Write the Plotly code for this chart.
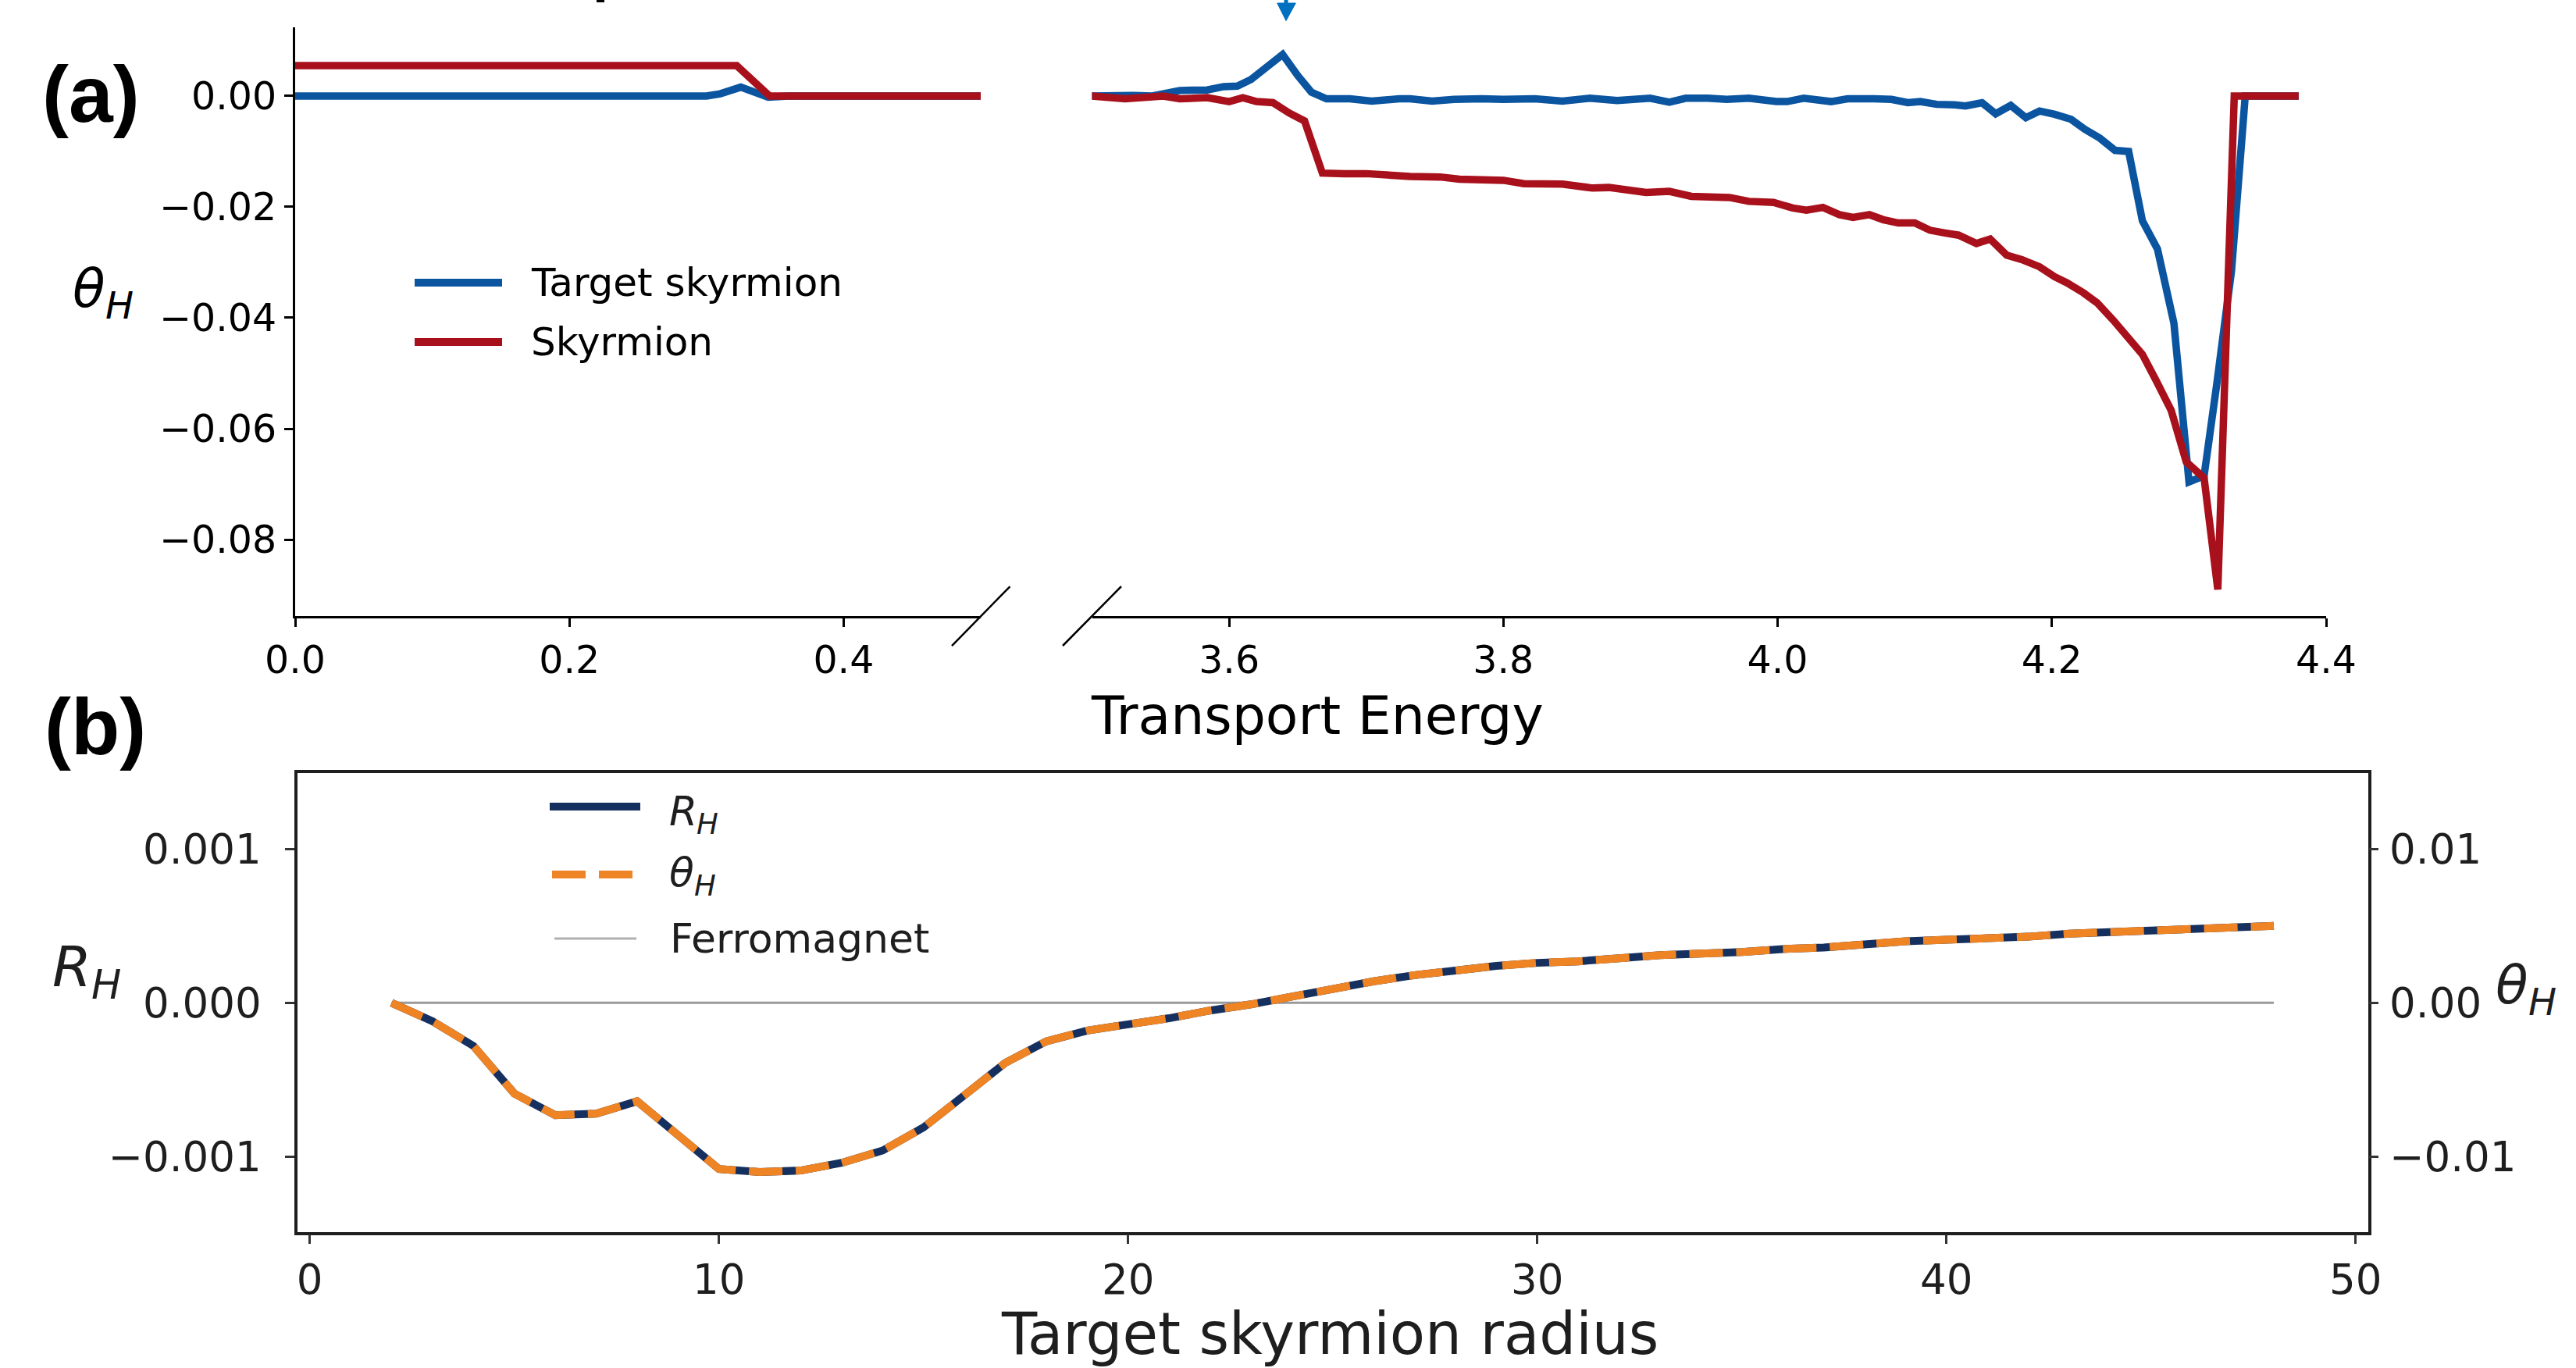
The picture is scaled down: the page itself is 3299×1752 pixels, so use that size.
import plotly.graph_objects as go

W, H = 3299, 1752


def px(x):
    return x / W


def py(y):
    return 1 - y / H


# ---------------- Panel (a): Hall angle vs transport energy ----------------
energy_target = [0.0, 0.300, 0.310, 0.325, 0.345, 0.360, 0.5,
                 3.500, 3.530, 3.544, 3.564, 3.584, 3.596, 3.606, 3.616, 3.639, 3.650,
                 3.660, 3.671, 3.688, 3.704, 3.724, 3.732, 3.748, 3.764, 3.784, 3.800,
                 3.823, 3.843, 3.863, 3.883, 3.907, 3.921, 3.933, 3.949, 3.963, 3.979,
                 3.999, 4.007, 4.019, 4.039, 4.051, 4.070, 4.083, 4.095, 4.104, 4.116,
                 4.129, 4.137, 4.149, 4.159, 4.170, 4.181, 4.191, 4.202, 4.214, 4.224,
                 4.235, 4.246, 4.256, 4.266, 4.277, 4.289, 4.300, 4.311, 4.320, 4.331,
                 4.341, 4.380]
theta_target = [0.0, 0.0, 0.0004, 0.0016, -0.0002, 0.0, 0.0,
                0.0000, 0.0001, 0.0000, 0.0010, 0.0011, 0.0017, 0.0018, 0.0030, 0.0075, 0.0037,
                0.0007, -0.0005, -0.0005, -0.0009, -0.0005, -0.0005, -0.0009, -0.0006, -0.0005, -0.0006,
                -0.0005, -0.0009, -0.0004, -0.0008, -0.0004, -0.0011, -0.0004, -0.0004, -0.0006, -0.0004,
                -0.0010, -0.0010, -0.0004, -0.0010, -0.0005, -0.0005, -0.0006, -0.0012, -0.0010, -0.0015,
                -0.0016, -0.0018, -0.0012, -0.0032, -0.0017, -0.0039, -0.0027, -0.0033, -0.0042, -0.0060,
                -0.0076, -0.0098, -0.0100, -0.0225, -0.0276, -0.0410, -0.0696, -0.0685, -0.0524, -0.0315,
                0.0000, 0.0000]

energy_skyrmion = [0.0, 0.322, 0.346, 0.5,
                   3.500, 3.524, 3.552, 3.564, 3.584, 3.600, 3.610, 3.620, 3.632, 3.644, 3.655,
                   3.668, 3.684, 3.700, 3.732, 3.754, 3.768, 3.800, 3.815, 3.843, 3.865, 3.877,
                   3.904, 3.921, 3.937, 3.965, 3.979, 3.997, 4.011, 4.021, 4.033, 4.045, 4.055,
                   4.067, 4.077, 4.088, 4.100, 4.111, 4.122, 4.132, 4.145, 4.155, 4.167, 4.178,
                   4.191, 4.202, 4.211, 4.223, 4.233, 4.245, 4.256, 4.266, 4.276, 4.287, 4.298,
                   4.311, 4.321, 4.333, 4.380]
theta_skyrmion = [0.0055, 0.0055, 0.0, 0.0,
                  0.0000, -0.0005, 0.0000, -0.0005, -0.0003, -0.0010, -0.0003, -0.0010, -0.0012, -0.0031, -0.0045,
                  -0.0139, -0.0140, -0.0140, -0.0145, -0.0146, -0.0150, -0.0152, -0.0158, -0.0159, -0.0166, -0.0165,
                  -0.0174, -0.0172, -0.0181, -0.0183, -0.0190, -0.0192, -0.0202, -0.0206, -0.0201, -0.0214, -0.0219,
                  -0.0214, -0.0223, -0.0229, -0.0229, -0.0242, -0.0247, -0.0251, -0.0266, -0.0258, -0.0287, -0.0295,
                  -0.0308, -0.0326, -0.0337, -0.0355, -0.0373, -0.0405, -0.0437, -0.0466, -0.0513, -0.0567, -0.0660,
                  -0.0689, -0.0890, 0.0000, 0.0000]

a_ytick_vals = [0.0, -0.02, -0.04, -0.06, -0.08]
a_ytick_text = ["0.00", "\u22120.02", "\u22120.04", "\u22120.06", "\u22120.08"]
a_left_xticks = [0.0, 0.2, 0.4]
a_left_xtext = ["0.0", "0.2", "0.4"]
a_right_xticks = [3.6, 3.8, 4.0, 4.2, 4.4]
a_right_xtext = ["3.6", "3.8", "4.0", "4.2", "4.4"]

# ---------------- Panel (b): Hall resistance vs target skyrmion radius ----------------
radius = [2, 3, 4, 5, 6, 7, 8, 9, 10, 11, 12, 13, 14, 15, 16, 17, 18, 19, 20, 21, 22, 23, 24, 25,
          26, 27, 28, 29, 30, 31, 32, 33, 34, 35, 36, 37, 38, 39, 40, 41, 42, 43, 44, 45, 46, 47, 48]
R_H = [0.0, -0.00012, -0.00028, -0.00059, -0.00073, -0.00072, -0.00064, -0.00086, -0.00108, -0.00110,
       -0.00109, -0.00104, -0.00096, -0.00081, -0.00060, -0.00039, -0.00025, -0.00018, -0.00014, -0.00010,
       -0.00005, -0.00001, 0.00004, 0.00009, 0.00014, 0.00018, 0.00021, 0.00024, 0.00026, 0.00027,
       0.00029, 0.00031, 0.00032, 0.00033, 0.00035, 0.00036, 0.00038, 0.00040, 0.00041, 0.00042,
       0.00043, 0.00045, 0.00046, 0.00047, 0.00048, 0.00049, 0.00050]
theta_H = [0.0, -0.0012, -0.0028, -0.0059, -0.0073, -0.0072, -0.0064, -0.0086, -0.0108, -0.0110,
           -0.0109, -0.0104, -0.0096, -0.0081, -0.0060, -0.0039, -0.0025, -0.0018, -0.0014, -0.0010,
           -0.0005, -0.0001, 0.0004, 0.0009, 0.0014, 0.0018, 0.0021, 0.0024, 0.0026, 0.0027,
           0.0029, 0.0031, 0.0032, 0.0033, 0.0035, 0.0036, 0.0038, 0.0040, 0.0041, 0.0042,
           0.0043, 0.0045, 0.0046, 0.0047, 0.0048, 0.0049, 0.0050]
ferromagnet_radius = [2, 48]
ferromagnet_RH = [0.0, 0.0]

b_xticks = [0, 10, 20, 30, 40, 50]
b_ltick_vals = [0.001, 0.0, -0.001]
b_ltick_text = ["0.001", "0.000", "\u22120.001"]
b_rtick_vals = [0.01, 0.0, -0.01]
b_rtick_text = ["0.01", "0.00", "\u22120.01"]

# ---------------- Styles ----------------
BLUE = "#0b55a0"
RED = "#a8111b"
NAVY = "#15305f"
ORANGE = "#ef8424"
GREY = "#9a9a9a"
ARROW = "#0070c0"
FONT = "DejaVu Sans"
DASH = "43px,17px"
DARK = "#1e1e1e"

fig = go.Figure()

for xa in ["x", "x2"]:
    fig.add_trace(go.Scatter(x=energy_target, y=theta_target, mode="lines", xaxis=xa, yaxis="y",
                             line=dict(color=BLUE, width=9.5, simplify=False), showlegend=False,
                             name="Target skyrmion"))
    fig.add_trace(go.Scatter(x=energy_skyrmion, y=theta_skyrmion, mode="lines", xaxis=xa, yaxis="y",
                             line=dict(color=RED, width=9.5, simplify=False), showlegend=False,
                             name="Skyrmion"))

fig.add_trace(go.Scatter(x=ferromagnet_radius, y=ferromagnet_RH, mode="lines", xaxis="x3", yaxis="y3",
                         line=dict(color=GREY, width=3), showlegend=False, name="Ferromagnet"))
fig.add_trace(go.Scatter(x=radius, y=R_H, mode="lines", xaxis="x3", yaxis="y3",
                         line=dict(color=NAVY, width=10, simplify=False), showlegend=False, name="R_H"))
fig.add_trace(go.Scatter(x=radius, y=theta_H, mode="lines", xaxis="x3", yaxis="y4",
                         line=dict(color=ORANGE, width=10, dash=DASH, simplify=False), showlegend=False,
                         name="theta_H"))

top_axis = dict(showline=True, linecolor="black", linewidth=3, ticks="outside", ticklen=11,
                tickwidth=2.5, tickcolor="black", showgrid=False, zeroline=False, automargin=False,
                tickfont=dict(family=FONT, size=49, color="black"))
bot_axis = dict(showline=True, linecolor=DARK, linewidth=3.5, ticks="outside", ticklen=12,
                tickwidth=2.5, tickcolor="#333", showgrid=False, zeroline=False, automargin=False,
                tickfont=dict(family=FONT, size=53, color=DARK))

fig.update_layout(
    width=W, height=H, margin=dict(l=0, r=0, t=0, b=0, autoexpand=False),
    paper_bgcolor="white", plot_bgcolor="rgba(0,0,0,0)", showlegend=False,
    xaxis=dict(domain=[px(378), px(1256)], range=[0, 0.5], anchor="y",
               tickvals=a_left_xticks, ticktext=a_left_xtext, **top_axis),
    xaxis2=dict(domain=[px(1398.5), px(2979)], range=[3.5, 4.4], anchor="y",
                tickvals=a_right_xticks, ticktext=a_right_xtext, **top_axis),
    yaxis=dict(domain=[py(789), py(35)], range=[-0.0938, 0.01239], anchor="x",
               tickvals=a_ytick_vals, ticktext=a_ytick_text, **top_axis),
    xaxis3=dict(domain=[px(381), px(3032.5)], range=[-0.3, 50.3], anchor="y3", mirror=True,
                tickvals=b_xticks, **bot_axis),
    yaxis3=dict(domain=[py(1577.5), py(990)], range=[-0.001488, 0.001494], anchor="x3", mirror=True,
                tickvals=b_ltick_vals, ticktext=b_ltick_text, ticklabelstandoff=20, **bot_axis),
    yaxis4=dict(overlaying="y3", side="right", anchor="x3", range=[-0.01488, 0.01494],
                tickvals=b_rtick_vals, ticktext=b_rtick_text, ticklabelstandoff=4,
                **{**bot_axis, "showline": False}),
)

shapes = []
# legend (a)
shapes.append(dict(type="line", xref="paper", yref="paper", x0=px(531), x1=px(643), y0=py(362), y1=py(362),
                   line=dict(color=BLUE, width=10)))
shapes.append(dict(type="line", xref="paper", yref="paper", x0=px(531), x1=px(643), y0=py(438), y1=py(438),
                   line=dict(color=RED, width=10)))
# legend (b)
shapes.append(dict(type="line", xref="paper", yref="paper", x0=px(704), x1=px(820), y0=py(1033), y1=py(1033),
                   line=dict(color=NAVY, width=10)))
shapes.append(dict(type="line", xref="paper", yref="paper", x0=px(707), x1=px(810), y0=py(1120), y1=py(1120),
                   line=dict(color=ORANGE, width=10, dash=DASH)))
shapes.append(dict(type="line", xref="paper", yref="paper", x0=px(710), x1=px(815), y0=py(1202), y1=py(1202),
                   line=dict(color="#b0b0b0", width=3)))
# axis-break slashes
for (xa, xb) in [(1219, 1293.5), (1361, 1436)]:
    shapes.append(dict(type="line", xref="paper", yref="paper", x0=px(xa), x1=px(xb), y0=py(827), y1=py(751),
                       line=dict(color="black", width=2.5)))
# arrow marking the peak
shapes.append(dict(type="path", xref="paper", yref="paper",
                   path=f"M {px(1635.7)},{py(4)} L {px(1659.3)},{py(4)} L {px(1647)},{py(26.5)} Z",
                   fillcolor=ARROW, line=dict(color=ARROW, width=1)))
shapes.append(dict(type="rect", xref="paper", yref="paper", x0=px(1644.5), x1=px(1649.5), y0=py(5), y1=py(0),
                   fillcolor=ARROW, line=dict(width=0)))
# cropped fragment at the top edge
shapes.append(dict(type="rect", xref="paper", yref="paper", x0=px(764), x1=px(774), y0=py(3), y1=py(0),
                   fillcolor="black", line=dict(width=0)))
fig.update_layout(shapes=shapes)

ann = []


def text(x, y, s, size, xanchor="center", yanchor="middle", family=FONT, color="black",
         style="normal", weight="normal"):
    ann.append(dict(x=px(x), y=py(y), xref="paper", yref="paper", text=s, showarrow=False,
                    xanchor=xanchor, yanchor=yanchor, borderpad=0, borderwidth=0,
                    font=dict(family=family, size=size, color=color, style=style, weight=weight)))


def symbol(x, y, main, sub, size, sub_size, sub_dx, sub_dy, color="black"):
    # italic symbol with an italic subscript, drawn as two plain text pieces
    text(x, y, main, size, xanchor="left", color=color, style="italic")
    text(x + sub_dx, y + sub_dy, sub, sub_size, xanchor="left", color=color, style="italic")


text(116, 121, "(a)", 102, family="Liberation Sans", weight="bold")
text(122, 931, "(b)", 102, family="Liberation Sans", weight="bold")
text(1687, 917, "Transport Energy", 68)
symbol(93, 369, "θ", "H", 68, 48, 42, 22)
text(680, 362, "Target skyrmion", 50, xanchor="left")
text(680, 438, "Skyrmion", 50, xanchor="left")
symbol(857, 1039, "R", "H", 52, 37, 35, 16, color=DARK)
symbol(857, 1117, "θ", "H", 52, 37, 32, 17, color=DARK)
text(858, 1202, "Ferromagnet", 52, xanchor="left", color=DARK)
text(1703, 1708, "Target skyrmion radius", 74, color=DARK)
symbol(67, 1238, "R", "H", 72, 51, 50, 23, color=DARK)
symbol(3196, 1261, "θ", "H", 68, 48, 42, 22, color=DARK)
fig.update_layout(annotations=ann)

fig.write_html("out.html")
